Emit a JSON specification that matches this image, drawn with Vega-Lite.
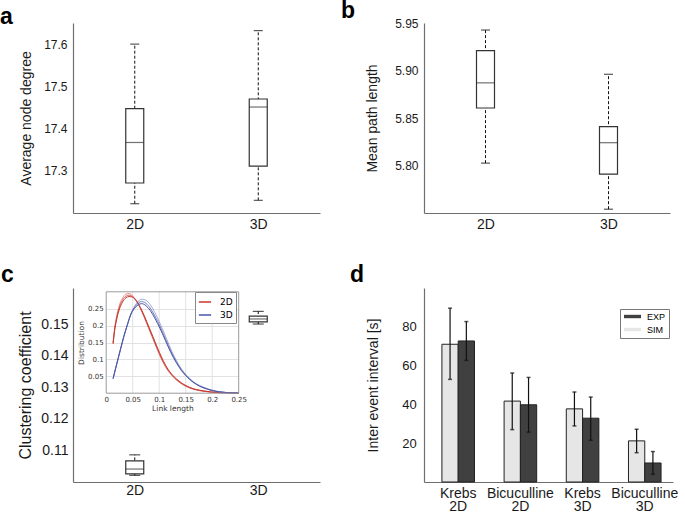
{
"$schema": "https://vega.github.io/schema/vega-lite/v6.json",
"padding": 0,
"background": "white",
"columns": 2,
"bounds": "flush",
"spacing": {"row": 75, "column": 104},
"resolve": {"scale": {"color": "independent", "opacity": "independent"}, "legend": {"color": "independent"}},
"config": {
  "font": "Liberation Sans",
  "view": {"stroke": null},
  "axis": {"labelFont": "Liberation Sans", "titleFont": "Liberation Sans", "labelColor": "#1a1a1a", "titleColor": "#1a1a1a", "titleFontWeight": "normal", "domainColor": "#6e6e6e", "domainWidth": 1.2, "ticks": false, "grid": false, "labelOverlap": false, "labelBound": false},
  "legend": {"labelFont": "Liberation Sans"},
  "title": {"font": "Liberation Sans"}
},
"datasets": {
  "degree": [
    {"g": "2D", "lo": 17.222, "q1": 17.271, "med": 17.367, "q3": 17.447, "hi": 17.600},
    {"g": "3D", "lo": 17.230, "q1": 17.311, "med": 17.451, "q3": 17.470, "hi": 17.632}
  ],
  "path": [
    {"g": "2D", "lo": 5.8025, "q1": 5.8605, "med": 5.887, "q3": 5.921, "hi": 5.9426},
    {"g": "3D", "lo": 5.754, "q1": 5.791, "med": 5.824, "q3": 5.841, "hi": 5.896}
  ],
  "clust": [
    {"g": "2D", "lo": 0.1021, "q1": 0.1026, "med": 0.1041, "q3": 0.1067, "hi": 0.1086},
    {"g": "3D", "lo": 0.1500, "q1": 0.1507, "med": 0.1516, "q3": 0.1525, "hi": 0.1540}
  ],
  "igrid": [{"v": 0.05}, {"v": 0.1}, {"v": 0.15}, {"v": 0.2}],
  "iei": [
    {"cond": "Krebs|2D", "type": "SIM", "mean": 71.0, "lo": 52.9, "hi": 89.6},
    {"cond": "Krebs|2D", "type": "EXP", "mean": 72.7, "lo": 62.7, "hi": 82.7},
    {"cond": "Bicuculline|2D", "type": "SIM", "mean": 41.7, "lo": 27.0, "hi": 56.2},
    {"cond": "Bicuculline|2D", "type": "EXP", "mean": 39.8, "lo": 25.7, "hi": 53.9},
    {"cond": "Krebs|3D", "type": "SIM", "mean": 37.7, "lo": 28.9, "hi": 46.4},
    {"cond": "Krebs|3D", "type": "EXP", "mean": 32.9, "lo": 21.5, "hi": 43.8},
    {"cond": "Bicuculline|3D", "type": "SIM", "mean": 21.2, "lo": 15.1, "hi": 27.2},
    {"cond": "Bicuculline|3D", "type": "EXP", "mean": 9.8, "lo": 4.0, "hi": 15.7}
  ],
  "dist": [
    {"dim":"2D","run":"a","len":0.013,"dens":0.150},{"dim":"2D","run":"a","len":0.016,"dens":0.194},{"dim":"2D","run":"a","len":0.020,"dens":0.230},{"dim":"2D","run":"a","len":0.025,"dens":0.261},{"dim":"2D","run":"a","len":0.031,"dens":0.282},{"dim":"2D","run":"a","len":0.037,"dens":0.293},{"dim":"2D","run":"a","len":0.043,"dens":0.295},{"dim":"2D","run":"a","len":0.050,"dens":0.288},{"dim":"2D","run":"a","len":0.058,"dens":0.271},{"dim":"2D","run":"a","len":0.067,"dens":0.242},{"dim":"2D","run":"a","len":0.077,"dens":0.204},{"dim":"2D","run":"a","len":0.087,"dens":0.165},{"dim":"2D","run":"a","len":0.096,"dens":0.130},{"dim":"2D","run":"a","len":0.105,"dens":0.098},{"dim":"2D","run":"a","len":0.115,"dens":0.070},{"dim":"2D","run":"a","len":0.125,"dens":0.050},{"dim":"2D","run":"a","len":0.139,"dens":0.031},{"dim":"2D","run":"a","len":0.158,"dens":0.015},{"dim":"2D","run":"a","len":0.183,"dens":0.006},{"dim":"2D","run":"a","len":0.214,"dens":0.0015},{"dim":"2D","run":"a","len":0.25,"dens":0.0002},
    {"dim":"2D","run":"b","len":0.013,"dens":0.148},{"dim":"2D","run":"b","len":0.016,"dens":0.190},{"dim":"2D","run":"b","len":0.020,"dens":0.225},{"dim":"2D","run":"b","len":0.025,"dens":0.255},{"dim":"2D","run":"b","len":0.031,"dens":0.276},{"dim":"2D","run":"b","len":0.037,"dens":0.287},{"dim":"2D","run":"b","len":0.043,"dens":0.290},{"dim":"2D","run":"b","len":0.050,"dens":0.285},{"dim":"2D","run":"b","len":0.058,"dens":0.270},{"dim":"2D","run":"b","len":0.067,"dens":0.243},{"dim":"2D","run":"b","len":0.077,"dens":0.206},{"dim":"2D","run":"b","len":0.087,"dens":0.168},{"dim":"2D","run":"b","len":0.096,"dens":0.133},{"dim":"2D","run":"b","len":0.105,"dens":0.101},{"dim":"2D","run":"b","len":0.115,"dens":0.072},{"dim":"2D","run":"b","len":0.125,"dens":0.052},{"dim":"2D","run":"b","len":0.139,"dens":0.032},{"dim":"2D","run":"b","len":0.158,"dens":0.016},{"dim":"2D","run":"b","len":0.183,"dens":0.006},{"dim":"2D","run":"b","len":0.214,"dens":0.0015},{"dim":"2D","run":"b","len":0.25,"dens":0.0002},
    {"dim":"2D","run":"c","len":0.013,"dens":0.146},{"dim":"2D","run":"c","len":0.016,"dens":0.186},{"dim":"2D","run":"c","len":0.020,"dens":0.220},{"dim":"2D","run":"c","len":0.025,"dens":0.249},{"dim":"2D","run":"c","len":0.031,"dens":0.270},{"dim":"2D","run":"c","len":0.037,"dens":0.282},{"dim":"2D","run":"c","len":0.043,"dens":0.286},{"dim":"2D","run":"c","len":0.050,"dens":0.284},{"dim":"2D","run":"c","len":0.058,"dens":0.271},{"dim":"2D","run":"c","len":0.067,"dens":0.246},{"dim":"2D","run":"c","len":0.077,"dens":0.210},{"dim":"2D","run":"c","len":0.087,"dens":0.172},{"dim":"2D","run":"c","len":0.096,"dens":0.137},{"dim":"2D","run":"c","len":0.105,"dens":0.105},{"dim":"2D","run":"c","len":0.115,"dens":0.075},{"dim":"2D","run":"c","len":0.125,"dens":0.054},{"dim":"2D","run":"c","len":0.139,"dens":0.034},{"dim":"2D","run":"c","len":0.158,"dens":0.017},{"dim":"2D","run":"c","len":0.183,"dens":0.007},{"dim":"2D","run":"c","len":0.214,"dens":0.0018},{"dim":"2D","run":"c","len":0.25,"dens":0.0002},
    {"dim":"3D","run":"a","len":0.013,"dens":0.043},{"dim":"3D","run":"a","len":0.020,"dens":0.086},{"dim":"3D","run":"a","len":0.027,"dens":0.128},{"dim":"3D","run":"a","len":0.033,"dens":0.164},{"dim":"3D","run":"a","len":0.040,"dens":0.201},{"dim":"3D","run":"a","len":0.046,"dens":0.232},{"dim":"3D","run":"a","len":0.053,"dens":0.256},{"dim":"3D","run":"a","len":0.060,"dens":0.271},{"dim":"3D","run":"a","len":0.067,"dens":0.278},{"dim":"3D","run":"a","len":0.075,"dens":0.275},{"dim":"3D","run":"a","len":0.083,"dens":0.262},{"dim":"3D","run":"a","len":0.092,"dens":0.238},{"dim":"3D","run":"a","len":0.102,"dens":0.205},{"dim":"3D","run":"a","len":0.112,"dens":0.168},{"dim":"3D","run":"a","len":0.122,"dens":0.130},{"dim":"3D","run":"a","len":0.132,"dens":0.098},{"dim":"3D","run":"a","len":0.142,"dens":0.072},{"dim":"3D","run":"a","len":0.158,"dens":0.043},{"dim":"3D","run":"a","len":0.170,"dens":0.028},{"dim":"3D","run":"a","len":0.183,"dens":0.018},{"dim":"3D","run":"a","len":0.200,"dens":0.009},{"dim":"3D","run":"a","len":0.214,"dens":0.004},{"dim":"3D","run":"a","len":0.230,"dens":0.0015},{"dim":"3D","run":"a","len":0.25,"dens":0.0003},
    {"dim":"3D","run":"b","len":0.013,"dens":0.043},{"dim":"3D","run":"b","len":0.020,"dens":0.087},{"dim":"3D","run":"b","len":0.027,"dens":0.130},{"dim":"3D","run":"b","len":0.033,"dens":0.166},{"dim":"3D","run":"b","len":0.040,"dens":0.203},{"dim":"3D","run":"b","len":0.046,"dens":0.232},{"dim":"3D","run":"b","len":0.053,"dens":0.253},{"dim":"3D","run":"b","len":0.060,"dens":0.266},{"dim":"3D","run":"b","len":0.067,"dens":0.271},{"dim":"3D","run":"b","len":0.075,"dens":0.266},{"dim":"3D","run":"b","len":0.083,"dens":0.252},{"dim":"3D","run":"b","len":0.092,"dens":0.228},{"dim":"3D","run":"b","len":0.102,"dens":0.196},{"dim":"3D","run":"b","len":0.112,"dens":0.160},{"dim":"3D","run":"b","len":0.122,"dens":0.124},{"dim":"3D","run":"b","len":0.132,"dens":0.094},{"dim":"3D","run":"b","len":0.142,"dens":0.069},{"dim":"3D","run":"b","len":0.158,"dens":0.041},{"dim":"3D","run":"b","len":0.170,"dens":0.027},{"dim":"3D","run":"b","len":0.183,"dens":0.017},{"dim":"3D","run":"b","len":0.200,"dens":0.008},{"dim":"3D","run":"b","len":0.214,"dens":0.004},{"dim":"3D","run":"b","len":0.230,"dens":0.0015},{"dim":"3D","run":"b","len":0.25,"dens":0.0003},
    {"dim":"3D","run":"c","len":0.013,"dens":0.043},{"dim":"3D","run":"c","len":0.020,"dens":0.088},{"dim":"3D","run":"c","len":0.027,"dens":0.131},{"dim":"3D","run":"c","len":0.033,"dens":0.167},{"dim":"3D","run":"c","len":0.040,"dens":0.203},{"dim":"3D","run":"c","len":0.046,"dens":0.231},{"dim":"3D","run":"c","len":0.053,"dens":0.250},{"dim":"3D","run":"c","len":0.060,"dens":0.261},{"dim":"3D","run":"c","len":0.067,"dens":0.265},{"dim":"3D","run":"c","len":0.075,"dens":0.259},{"dim":"3D","run":"c","len":0.083,"dens":0.245},{"dim":"3D","run":"c","len":0.092,"dens":0.221},{"dim":"3D","run":"c","len":0.102,"dens":0.190},{"dim":"3D","run":"c","len":0.112,"dens":0.155},{"dim":"3D","run":"c","len":0.122,"dens":0.120},{"dim":"3D","run":"c","len":0.132,"dens":0.091},{"dim":"3D","run":"c","len":0.142,"dens":0.067},{"dim":"3D","run":"c","len":0.158,"dens":0.040},{"dim":"3D","run":"c","len":0.170,"dens":0.026},{"dim":"3D","run":"c","len":0.183,"dens":0.016},{"dim":"3D","run":"c","len":0.200,"dens":0.008},{"dim":"3D","run":"c","len":0.214,"dens":0.004},{"dim":"3D","run":"c","len":0.230,"dens":0.0015},{"dim":"3D","run":"c","len":0.25,"dens":0.0003}
  ]
},
"concat": [
  {
    "width": 247, "height": 190,
    "title": {"text": "a", "anchor": "start", "frame": "group", "dx": -73, "offset": -24, "baseline": "alphabetic", "fontSize": 23, "fontWeight": "bold", "color": "#000"},
    "data": {"name": "degree"},
    "encoding": {"x": {"field": "g", "type": "nominal", "sort": ["2D", "3D"], "scale": {"type": "point", "padding": 0.5}, "axis": {"title": null, "labelAngle": 0, "labelFontSize": 14, "labelPadding": 4}}},
    "layer": [
      {"mark": {"type": "rule", "strokeDash": [3, 2], "color": "#111", "strokeWidth": 1},
       "encoding": {"y": {"field": "lo", "type": "quantitative", "title": "Average node degree", "scale": {"domain": [17.2, 17.65], "nice": false, "zero": false}, "axis": {"values": [17.3, 17.4, 17.5, 17.6], "format": ".1f", "labelFontSize": 12, "titleFontSize": 14, "labelPadding": 6, "titlePadding": 10}}, "y2": {"field": "hi"}}},
      {"mark": {"type": "bar", "size": 18, "fill": "white", "stroke": "#333", "strokeWidth": 1.2},
       "encoding": {"y": {"field": "q1", "type": "quantitative", "title": "Average node degree"}, "y2": {"field": "q3"}}},
      {"mark": {"type": "tick", "size": 18, "thickness": 1.2, "color": "#333"},
       "encoding": {"y": {"field": "med", "type": "quantitative", "title": "Average node degree"}}},
      {"mark": {"type": "tick", "size": 9, "thickness": 1.2, "color": "#111"},
       "encoding": {"y": {"field": "lo", "type": "quantitative", "title": "Average node degree"}}},
      {"mark": {"type": "tick", "size": 9, "thickness": 1.2, "color": "#111"},
       "encoding": {"y": {"field": "hi", "type": "quantitative", "title": "Average node degree"}}}
    ]
  },
  {
    "width": 246, "height": 190,
    "title": {"text": "b", "anchor": "start", "frame": "group", "dx": -83, "offset": -24, "baseline": "alphabetic", "fontSize": 23, "fontWeight": "bold", "color": "#000"},
    "data": {"name": "path"},
    "encoding": {"x": {"field": "g", "type": "nominal", "sort": ["2D", "3D"], "scale": {"type": "point", "padding": 0.5}, "axis": {"title": null, "labelAngle": 0, "labelFontSize": 14, "labelPadding": 4}}},
    "layer": [
      {"mark": {"type": "rule", "strokeDash": [3, 2], "color": "#111", "strokeWidth": 1},
       "encoding": {"y": {"field": "lo", "type": "quantitative", "title": "Mean path length", "scale": {"domain": [5.75, 5.95], "nice": false, "zero": false}, "axis": {"values": [5.8, 5.85, 5.9, 5.95], "format": ".2f", "labelFontSize": 12, "titleFontSize": 14, "labelPadding": 6, "titlePadding": 15}}, "y2": {"field": "hi"}}},
      {"mark": {"type": "bar", "size": 18, "fill": "white", "stroke": "#333", "strokeWidth": 1.2},
       "encoding": {"y": {"field": "q1", "type": "quantitative", "title": "Mean path length"}, "y2": {"field": "q3"}}},
      {"mark": {"type": "tick", "size": 18, "thickness": 1.2, "color": "#333"},
       "encoding": {"y": {"field": "med", "type": "quantitative", "title": "Mean path length"}}},
      {"mark": {"type": "tick", "size": 9, "thickness": 1.2, "color": "#111"},
       "encoding": {"y": {"field": "lo", "type": "quantitative", "title": "Mean path length"}}},
      {"mark": {"type": "tick", "size": 9, "thickness": 1.2, "color": "#111"},
       "encoding": {"y": {"field": "hi", "type": "quantitative", "title": "Mean path length"}}}
    ]
  },
  {
    "width": 247, "height": 194,
    "title": {"text": "c", "anchor": "start", "frame": "group", "dx": -72, "offset": -17, "baseline": "alphabetic", "fontSize": 23, "fontWeight": "bold", "color": "#000"},
    "layer": [
      {
        "data": {"name": "clust"},
        "encoding": {"x": {"field": "g", "type": "nominal", "sort": ["2D", "3D"], "scale": {"type": "point", "padding": 0.5}, "axis": {"title": null, "labelAngle": 0, "labelFontSize": 14, "labelPadding": 1}}},
        "layer": [
          {"mark": {"type": "rule", "strokeDash": [3, 2], "color": "#111", "strokeWidth": 1},
           "encoding": {"y": {"field": "lo", "type": "quantitative", "title": "Clustering coefficient", "scale": {"domain": [0.1, 0.1614], "nice": false, "zero": false}, "axis": {"values": [0.11, 0.12, 0.13, 0.14, 0.15], "format": ".2f", "labelFontSize": 14, "titleFontSize": 16, "labelPadding": 5, "titlePadding": 7}}, "y2": {"field": "hi"}}},
          {"mark": {"type": "bar", "size": 18, "fill": "white", "stroke": "#333", "strokeWidth": 1.2},
           "encoding": {"y": {"field": "q1", "type": "quantitative", "title": "Clustering coefficient"}, "y2": {"field": "q3"}}},
          {"mark": {"type": "tick", "size": 18, "thickness": 1.2, "color": "#333"},
           "encoding": {"y": {"field": "med", "type": "quantitative", "title": "Clustering coefficient"}}},
          {"mark": {"type": "tick", "size": 11, "thickness": 1.2, "color": "#111"},
           "encoding": {"y": {"field": "lo", "type": "quantitative", "title": "Clustering coefficient"}}},
          {"mark": {"type": "tick", "size": 11, "thickness": 1.2, "color": "#111"},
           "encoding": {"y": {"field": "hi", "type": "quantitative", "title": "Clustering coefficient"}}}
        ]
      },
      {
        "layer": [
          {"data": {"name": "igrid"},
           "mark": {"type": "rule", "color": "#e2e2e2", "strokeWidth": 1},
           "encoding": {"x": {"field": "v", "type": "quantitative", "title": "Link length"}, "y": {"datum": 0, "type": "quantitative", "title": "Distribution"}, "y2": {"datum": 0.3}}},
          {"data": {"name": "dist"},
           "mark": {"type": "line", "strokeWidth": 1, "interpolate": "monotone"},
           "encoding": {
             "x": {"field": "len", "type": "quantitative", "title": "Link length", "scale": {"domain": [0, 0.25], "range": [33.2, 165.7], "nice": false, "zero": false},
                   "axis": {"orient": "bottom", "offset": -88.8, "values": [0, 0.05, 0.1, 0.15, 0.2, 0.25], "format": "~g", "labelFont": "DejaVu Sans", "labelFontSize": 7, "labelPadding": 2, "labelFlush": false, "titleFont": "DejaVu Sans", "titleFontSize": 7.5, "titlePadding": 2, "domain": false, "grid": false, "ticks": false, "labelColor": "#333", "titleColor": "#333"}},
             "y": {"field": "dens", "type": "quantitative", "title": "Distribution", "scale": {"domain": [0, 0.3], "range": [105.2, 3.8], "nice": false, "zero": false},
                   "axis": {"orient": "left", "offset": -33.2, "values": [0.05, 0.1, 0.15, 0.2, 0.25], "format": "~g", "labelFont": "DejaVu Sans", "labelFontSize": 7, "labelPadding": 3, "titleFont": "DejaVu Sans", "titleFontSize": 7.5, "titlePadding": 2, "domain": false, "grid": true, "gridColor": "#e2e2e2", "ticks": false, "labelColor": "#333", "titleColor": "#333"}},
             "color": {"field": "dim", "type": "nominal", "scale": {"domain": ["2D", "3D"], "range": ["#c8372d", "#4b57a8"]},
                       "legend": {"orient": "none", "legendX": 122, "legendY": 4, "title": null, "symbolType": "stroke", "symbolSize": 150, "symbolStrokeWidth": 1.5, "labelFont": "DejaVu Sans", "labelFontSize": 9, "padding": 3, "strokeColor": "#888", "fillColor": "white", "rowPadding": 1, "labelOffset": 8}},
             "opacity": {"field": "run", "type": "ordinal", "scale": {"domain": ["a", "b", "c"], "range": [0.5, 1, 0.5]}, "legend": null},
             "detail": {"field": "run"}
           }},
          {"data": {"values": [{}]},
           "mark": {"type": "rect", "fillOpacity": 0, "stroke": "#9a9a9a", "strokeWidth": 1},
           "encoding": {"x": {"datum": 0, "type": "quantitative", "title": "Link length"}, "x2": {"datum": 0.25}, "y": {"datum": 0, "type": "quantitative", "title": "Distribution"}, "y2": {"datum": 0.3}}}
        ]
      }
    ],
    "resolve": {"scale": {"x": "independent", "y": "independent"}}
  },
  {
    "width": 249, "height": 194,
    "title": {"text": "d", "anchor": "start", "frame": "group", "dx": -74, "offset": -17, "baseline": "alphabetic", "fontSize": 23, "fontWeight": "bold", "color": "#000"},
    "data": {"name": "iei"},
    "encoding": {
      "x": {"field": "cond", "type": "nominal", "sort": null, "scale": {"paddingInner": 0.476, "paddingOuter": 0.24, "align": 0.6},
            "axis": {"title": null, "labelAngle": 0, "labelFontSize": 14, "labelPadding": 4, "labelLineHeight": 13.5, "labelExpr": "split(datum.value, '|')"}},
      "xOffset": {"field": "type", "type": "nominal", "sort": ["SIM", "EXP"], "scale": {"paddingInner": 0}}
    },
    "layer": [
      {"mark": {"type": "bar", "stroke": "#222", "strokeWidth": 1},
       "encoding": {
         "y": {"field": "mean", "type": "quantitative", "title": "Inter event interval [s]", "scale": {"domain": [0, 100], "nice": false}, "axis": {"values": [20, 40, 60, 80], "labelFontSize": 13, "titleFontSize": 14, "labelPadding": 7.7, "titlePadding": 21}},
         "color": {"field": "type", "type": "nominal", "scale": {"domain": ["EXP", "SIM"], "range": ["#404040", "#e6e6e6"]},
                   "legend": {"orient": "none", "legendX": 196, "legendY": 21, "title": null, "symbolType": "M-2,-0.4H2V0.4H-2Z", "symbolSize": 72, "symbolStrokeWidth": 0, "symbolOffset": 5, "labelFontSize": 9, "padding": 3, "strokeColor": "#777", "fillColor": "white", "rowPadding": 3, "labelOffset": 10}}
       }},
      {"mark": {"type": "rule", "color": "#111", "strokeWidth": 1.2},
       "encoding": {"y": {"field": "lo", "type": "quantitative", "title": "Inter event interval [s]"}, "y2": {"field": "hi"}}},
      {"mark": {"type": "tick", "size": 4, "thickness": 1.5, "color": "#111"},
       "encoding": {"y": {"field": "lo", "type": "quantitative", "title": "Inter event interval [s]"}}},
      {"mark": {"type": "tick", "size": 4, "thickness": 1.5, "color": "#111"},
       "encoding": {"y": {"field": "hi", "type": "quantitative", "title": "Inter event interval [s]"}}}
    ]
  }
]
}
